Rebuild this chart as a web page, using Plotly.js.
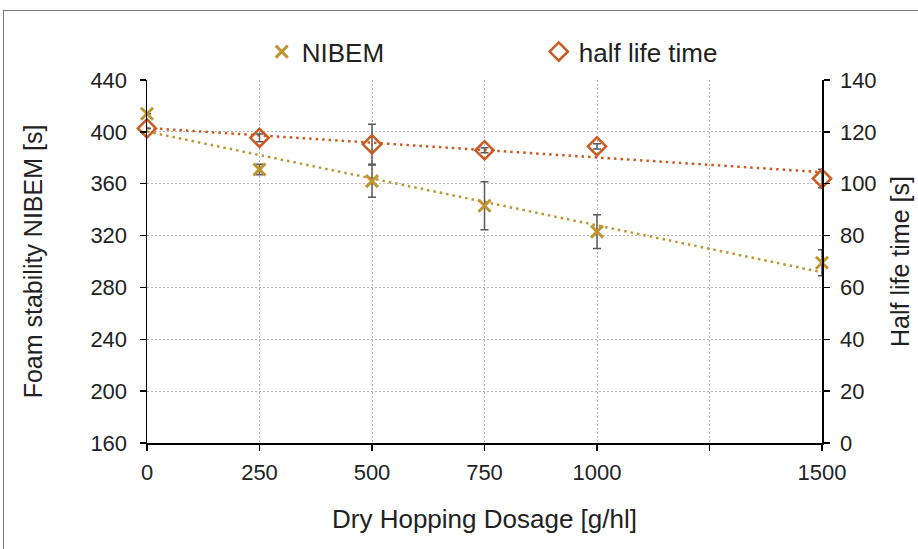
<!DOCTYPE html>
<html>
<head>
<meta charset="utf-8">
<script src="https://cdn.plot.ly/plotly-3.0.1.min.js"></script>
<style>
  html, body { margin: 0; padding: 0; background: #fff; }
  #wrap { position: relative; width: 918px; height: 549px; }
  #chart { width: 918px; height: 549px; }
  #frame { position: absolute; left: 3px; top: 10px; width: 930px; height: 560px;
           border-top: 1.5px solid #777; border-left: 1.5px solid #777; pointer-events: none; }
</style>
</head>
<body>
<div id="wrap">
  <div id="chart"></div>
  <div id="frame"></div>
</div>
<script>
// Data
const dosage = [0, 250, 500, 750, 1000, 1500];
const nibem = [414, 371, 362, 343, 323, 299];
const nibemErr = [0, 4, 12.5, 18.5, 13, 10];
const halfLife = [121.3, 117.7, 115.2, 112.9, 114.4, 102];
const halfLifeErr = [0, 1.5, 7.7, 1, 1, 3.6];
const xTickVals = [0, 250, 500, 750, 1000, 1250, 1500];
const xTickText = ['0', '250', '500', '750', '1000', '', '1500'];

// linear trendline (least squares) from the data
function fit(xs, ys) {
  const n = xs.length;
  const mx = xs.reduce((a, b) => a + b, 0) / n;
  const my = ys.reduce((a, b) => a + b, 0) / n;
  let sxy = 0, sxx = 0;
  for (let i = 0; i < n; i++) { sxy += (xs[i] - mx) * (ys[i] - my); sxx += (xs[i] - mx) ** 2; }
  const b = sxy / sxx, a = my - b * mx;
  const x0 = Math.min(...xs), x1 = Math.max(...xs);
  return { x: [x0, x1], y: [a + b * x0, a + b * x1] };
}
const tN = fit(dosage, nibem);
const tH = fit(dosage, halfLife);

const gold = '#BF9530';
const orange = '#CC5A20';
const sans = '"Liberation Sans", Arial, sans-serif';

const traces = [
  { x: tN.x, y: tN.y, mode: 'lines', yaxis: 'y', showlegend: false, hoverinfo: 'skip',
    line: { color: gold, width: 2.5, dash: '2.5px,4px' } },
  { x: tH.x, y: tH.y, mode: 'lines', yaxis: 'y2', showlegend: false, hoverinfo: 'skip',
    line: { color: orange, width: 2.5, dash: '2.5px,4px' } },
  { x: dosage, y: nibem, name: 'NIBEM', mode: 'markers', yaxis: 'y', cliponaxis: false,
    marker: { symbol: 'x-thin', size: 12, color: gold, line: { color: gold, width: 3 } },
    error_y: { type: 'data', array: nibemErr, visible: true, color: '#595959', thickness: 1.5, width: 4 } },
  { x: dosage, y: halfLife, name: 'half life time', mode: 'markers', yaxis: 'y2', cliponaxis: false,
    marker: { symbol: 'diamond-open', size: 14, color: orange, line: { color: orange, width: 2.5 } },
    error_y: { type: 'data', array: halfLifeErr, visible: true, color: '#595959', thickness: 1.5, width: 4 } }
];

const layout = {
  width: 918, height: 549,
  margin: { l: 147, r: 96, t: 80, b: 106 },
  paper_bgcolor: '#fff', plot_bgcolor: '#fff',
  font: { family: sans, color: '#222' },
  showlegend: true,
  legend: {
    orientation: 'h', x: 0.170, xanchor: 'left', y: 1.078, yanchor: 'middle',
    font: { family: sans, size: 26, color: '#222' }, entrywidth: 232, itemwidth: 30,
    bgcolor: 'rgba(0,0,0,0)'
  },
  xaxis: {
    range: [0, 1500], tickvals: xTickVals, ticktext: xTickText, automargin: false,
    showline: true, linecolor: '#000', linewidth: 1.5, ticks: 'outside', ticklen: 6, tickcolor: '#000', tickwidth: 1.5,
    showgrid: true, gridcolor: '#b5b5b5', griddash: '1.5px,2.5px', gridwidth: 1, zeroline: false,
    ticklabelstandoff: 3,
    tickfont: { family: sans, size: 22, color: '#222' },
    title: { text: 'Dry Hopping Dosage [g/hl]', font: { family: sans, size: 26, color: '#222' }, standoff: 26 }
  },
  yaxis: {
    range: [160, 440], tickvals: [160, 200, 240, 280, 320, 360, 400, 440], automargin: false,
    showline: true, linecolor: '#000', linewidth: 1.5, ticks: 'outside', ticklen: 6, tickcolor: '#000', tickwidth: 1.5,
    showgrid: true, gridcolor: '#b5b5b5', griddash: '1.5px,2.5px', gridwidth: 1, zeroline: false,
    ticklabelstandoff: 8,
    tickfont: { family: sans, size: 22, color: '#222' },
    title: { text: 'Foam stability NIBEM [s]', font: { family: sans, size: 25, color: '#222' }, standoff: 40 }
  },
  yaxis2: {
    range: [0, 140], tickvals: [0, 20, 40, 60, 80, 100, 120, 140], overlaying: 'y', side: 'right', automargin: false,
    showline: true, linecolor: '#000', linewidth: 1.5, ticks: 'outside', ticklen: 6, tickcolor: '#000', tickwidth: 1.5,
    showgrid: false, zeroline: false, ticklabelstandoff: 6,
    tickfont: { family: sans, size: 22, color: '#222' },
    title: { text: 'Half life time [s]', font: { family: sans, size: 25, color: '#222' }, standoff: 16 }
  }
};

Plotly.newPlot('chart', traces, layout, { displayModeBar: false, staticPlot: true });
</script>
</body>
</html>
